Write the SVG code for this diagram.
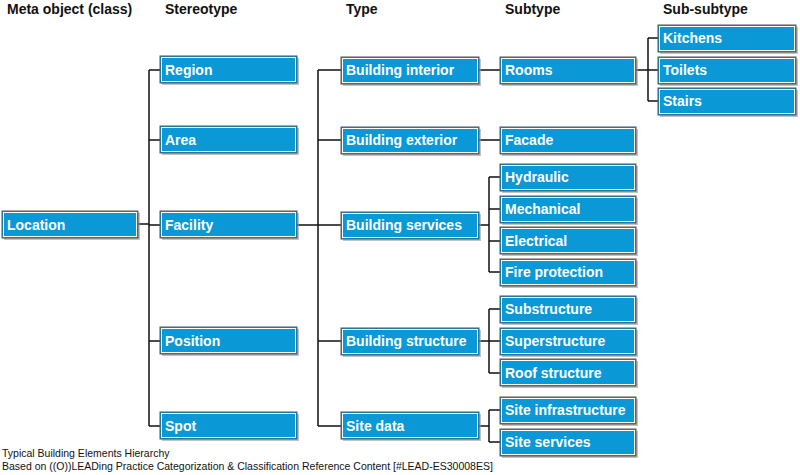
<svg xmlns="http://www.w3.org/2000/svg" width="800" height="475" viewBox="0 0 800 475">
<style>
.b{fill:#0a98d6;stroke:#555;stroke-width:1}
.i{fill:none;stroke:#fff;stroke-width:1}
.s{fill:#999;opacity:.6}
.t{font-family:"Liberation Sans",Arial,sans-serif;font-weight:bold;font-size:14px;fill:#fff}
.h{font-family:"Liberation Sans",Arial,sans-serif;font-weight:bold;font-size:14px;fill:#111}
.f{font-family:"Liberation Sans",Arial,sans-serif;font-size:10.5px;fill:#111}
.c{fill:none;stroke:#111;stroke-width:1.5}
</style>
<rect width="800" height="475" fill="#fff"/>
<g id="headers">
<text class="h" x="7" y="14">Meta object (class)</text>
<text class="h" x="165" y="14">Stereotype</text>
<text class="h" x="346" y="14">Type</text>
<text class="h" x="505" y="14">Subtype</text>
<text class="h" x="663" y="14">Sub-subtype</text>
</g>
<g id="connectors">
<path class="c" d="M138 224H149M149 70V426M149 70H160M149 140H160M149 225H160M149 341H160M149 426H160"/>
<path class="c" d="M297 225H318M318 70V426M318 70H341M318 140H341M318 225H341M318 341H341M318 426H341"/>
<path class="c" d="M479 70H500M479 140H500"/>
<path class="c" d="M636 70H648M648 38V101M648 38H658M648 70H658M648 101H658"/>
<path class="c" d="M479 225H489M489 177V272M489 177H500M489 209H500M489 241H500M489 272H500"/>
<path class="c" d="M479 341H489M489 309V373M489 309H500M489 341H500M489 373H500"/>
<path class="c" d="M479 426H489M489 410V442M489 410H500M489 442H500"/>
</g>
<defs>
<g id="x"></g>
</defs>
<g id="n-location"><rect class="s" x="4" y="213" width="136" height="27"/><rect class="b" x="2" y="211" width="136" height="27"/><rect class="i" x="3.5" y="212.5" width="133" height="24"/><text class="t" x="7" y="230">Location</text></g>
<g id="n-region"><rect class="s" x="162" y="58" width="137" height="27"/><rect class="b" x="160" y="56" width="137" height="27"/><rect class="i" x="161.5" y="57.5" width="134" height="24"/><text class="t" x="165" y="75">Region</text></g>
<g id="n-area"><rect class="s" x="162" y="128" width="137" height="27"/><rect class="b" x="160" y="126" width="137" height="27"/><rect class="i" x="161.5" y="127.5" width="134" height="24"/><text class="t" x="165" y="145">Area</text></g>
<g id="n-facility"><rect class="s" x="162" y="213" width="137" height="27"/><rect class="b" x="160" y="211" width="137" height="27"/><rect class="i" x="161.5" y="212.5" width="134" height="24"/><text class="t" x="165" y="230">Facility</text></g>
<g id="n-position"><rect class="s" x="162" y="329" width="137" height="27"/><rect class="b" x="160" y="327" width="137" height="27"/><rect class="i" x="161.5" y="328.5" width="134" height="24"/><text class="t" x="165" y="346">Position</text></g>
<g id="n-spot"><rect class="s" x="162" y="414" width="137" height="27"/><rect class="b" x="160" y="412" width="137" height="27"/><rect class="i" x="161.5" y="413.5" width="134" height="24"/><text class="t" x="165" y="431">Spot</text></g>
<g id="n-interior"><rect class="s" x="343" y="59" width="138" height="27"/><rect class="b" x="341" y="57" width="138" height="27"/><rect class="i" x="342.5" y="58.5" width="135" height="24"/><text class="t" x="346" y="75">Building interior</text></g>
<g id="n-exterior"><rect class="s" x="343" y="129" width="138" height="27"/><rect class="b" x="341" y="127" width="138" height="27"/><rect class="i" x="342.5" y="128.5" width="135" height="24"/><text class="t" x="346" y="145">Building exterior</text></g>
<g id="n-services"><rect class="s" x="343" y="214" width="138" height="27"/><rect class="b" x="341" y="212" width="138" height="27"/><rect class="i" x="342.5" y="213.5" width="135" height="24"/><text class="t" x="346" y="230">Building services</text></g>
<g id="n-structure"><rect class="s" x="343" y="330" width="138" height="27"/><rect class="b" x="341" y="328" width="138" height="27"/><rect class="i" x="342.5" y="329.5" width="135" height="24"/><text class="t" x="346" y="346">Building structure</text></g>
<g id="n-sitedata"><rect class="s" x="343" y="414" width="138" height="27"/><rect class="b" x="341" y="412" width="138" height="27"/><rect class="i" x="342.5" y="413.5" width="135" height="24"/><text class="t" x="346" y="431">Site data</text></g>
<g id="n-rooms"><rect class="s" x="502" y="59" width="136" height="27"/><rect class="b" x="500" y="57" width="136" height="27"/><rect class="i" x="501.5" y="58.5" width="133" height="24"/><text class="t" x="505" y="75">Rooms</text></g>
<g id="n-facade"><rect class="s" x="502" y="129" width="136" height="27"/><rect class="b" x="500" y="127" width="136" height="27"/><rect class="i" x="501.5" y="128.5" width="133" height="24"/><text class="t" x="505" y="145">Facade</text></g>
<g id="n-hydraulic"><rect class="s" x="502" y="166" width="136" height="27"/><rect class="b" x="500" y="164" width="136" height="27"/><rect class="i" x="501.5" y="165.5" width="133" height="24"/><text class="t" x="505" y="182">Hydraulic</text></g>
<g id="n-mechanical"><rect class="s" x="502" y="198" width="136" height="27"/><rect class="b" x="500" y="196" width="136" height="27"/><rect class="i" x="501.5" y="197.5" width="133" height="24"/><text class="t" x="505" y="214">Mechanical</text></g>
<g id="n-electrical"><rect class="s" x="502" y="229" width="136" height="27"/><rect class="b" x="500" y="227" width="136" height="27"/><rect class="i" x="501.5" y="228.5" width="133" height="24"/><text class="t" x="505" y="246">Electrical</text></g>
<g id="n-fire"><rect class="s" x="502" y="261" width="136" height="27"/><rect class="b" x="500" y="259" width="136" height="27"/><rect class="i" x="501.5" y="260.5" width="133" height="24"/><text class="t" x="505" y="277">Fire protection</text></g>
<g id="n-substructure"><rect class="s" x="502" y="298" width="136" height="27"/><rect class="b" x="500" y="296" width="136" height="27"/><rect class="i" x="501.5" y="297.5" width="133" height="24"/><text class="t" x="505" y="314">Substructure</text></g>
<g id="n-superstructure"><rect class="s" x="502" y="330" width="136" height="27"/><rect class="b" x="500" y="328" width="136" height="27"/><rect class="i" x="501.5" y="329.5" width="133" height="24"/><text class="t" x="505" y="346">Superstructure</text></g>
<g id="n-roof"><rect class="s" x="502" y="361" width="136" height="27"/><rect class="b" x="500" y="359" width="136" height="27"/><rect class="i" x="501.5" y="360.5" width="133" height="24"/><text class="t" x="505" y="378">Roof structure</text></g>
<g id="n-siteinfra"><rect class="s" x="502" y="399" width="136" height="27"/><rect class="b" x="500" y="397" width="136" height="27"/><rect class="i" x="501.5" y="398.5" width="133" height="24"/><text class="t" x="505" y="415">Site infrastructure</text></g>
<g id="n-siteservices"><rect class="s" x="502" y="431" width="136" height="27"/><rect class="b" x="500" y="429" width="136" height="27"/><rect class="i" x="501.5" y="430.5" width="133" height="24"/><text class="t" x="505" y="447">Site services</text></g>
<g id="n-kitchens"><rect class="s" x="660" y="27" width="138" height="27"/><rect class="b" x="658" y="25" width="138" height="27"/><rect class="i" x="659.5" y="26.5" width="135" height="24"/><text class="t" x="663" y="43">Kitchens</text></g>
<g id="n-toilets"><rect class="s" x="660" y="59" width="138" height="27"/><rect class="b" x="658" y="57" width="138" height="27"/><rect class="i" x="659.5" y="58.5" width="135" height="24"/><text class="t" x="663" y="75">Toilets</text></g>
<g id="n-stairs"><rect class="s" x="660" y="90" width="138" height="27"/><rect class="b" x="658" y="88" width="138" height="27"/><rect class="i" x="659.5" y="89.5" width="135" height="24"/><text class="t" x="663" y="106">Stairs</text></g>
<g id="footer">
<text class="f" x="2" y="457">Typical Building Elements Hierarchy</text>
<text class="f" x="2" y="470">Based on ((O))LEADing Practice Categorization &amp; Classification Reference Content [#LEAD-ES30008ES]</text>
</g>
</svg>
